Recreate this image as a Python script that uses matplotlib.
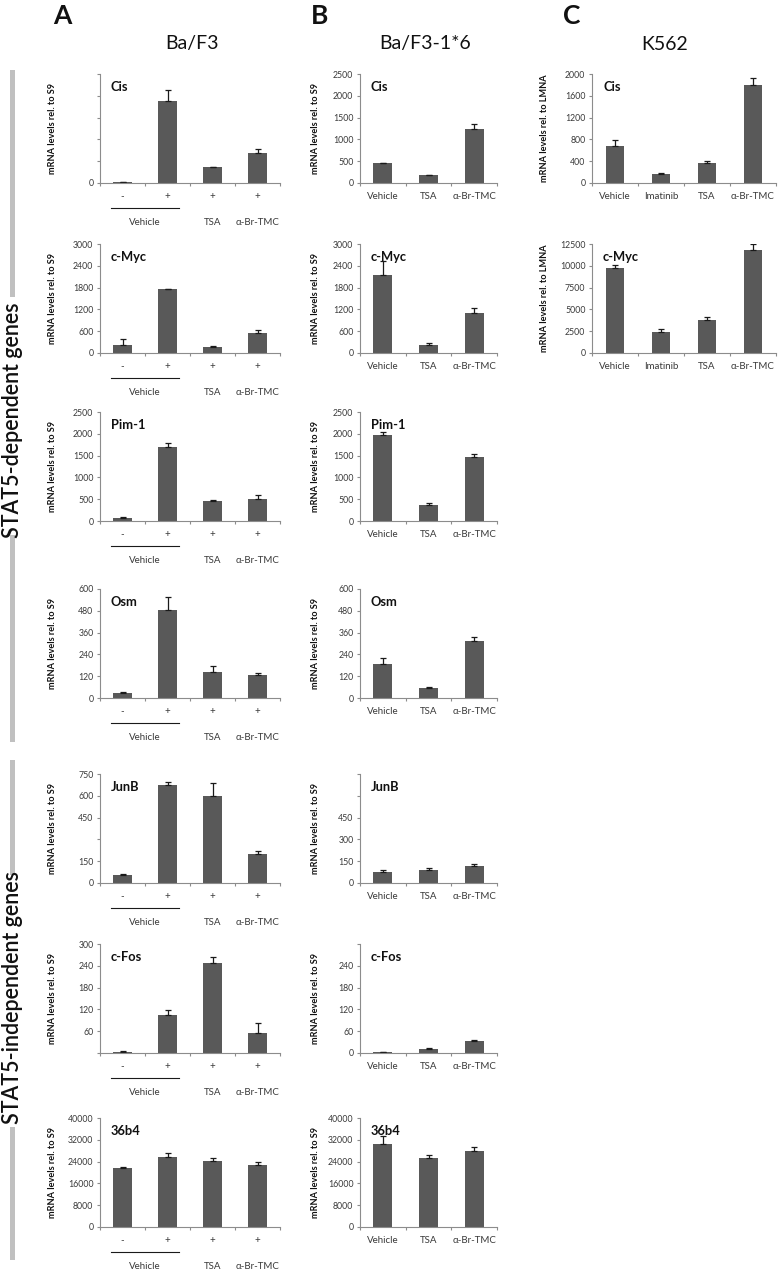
import matplotlib
matplotlib.use('Agg')
import matplotlib.pyplot as plt
from matplotlib.patches import Rectangle
import numpy as np

plt.rcParams['font.family'] = ['Lato', 'DejaVu Sans']

# ---------------- data ----------------
a_ticklabels = ['-', '+', '+', '+']
a_groups = ['Vehicle', 'TSA', 'α-Br-TMC']
b_categories = ['Vehicle', 'TSA', 'α-Br-TMC']
c_categories = ['Vehicle', 'Imatinib', 'TSA', 'α-Br-TMC']
genes = ['Cis', 'c-Myc', 'Pim-1', 'Osm', 'JunB', 'c-Fos', '36b4']
c_genes = ['Cis', 'c-Myc']

# Column A: Ba/F3
a_cis = [25, 1875, 360, 695];          a_cis_err = [5, 260, 15, 75]
a_myc = [210, 1750, 170, 560];         a_myc_err = [170, 10, 25, 65]
a_pim = [60, 1700, 455, 500];          a_pim_err = [30, 100, 30, 105]
a_osm = [28, 485, 143, 125];           a_osm_err = [6, 73, 32, 12]
a_junb = [57, 677, 601, 201];          a_junb_err = [7, 15, 85, 16]
a_fos = [3, 105, 248, 55];             a_fos_err = [2, 13, 15, 27]
a_36b4 = [21600, 25700, 24200, 22800]; a_36b4_err = [600, 1300, 1000, 1200]

# Column B: Ba/F3-1*6
b_cis = [450, 175, 1230];      b_cis_err = [20, 15, 115]
b_myc = [2150, 230, 1110];     b_myc_err = [370, 35, 135]
b_pim = [1965, 370, 1465];     b_pim_err = [80, 45, 75]
b_osm = [187, 55, 316];        b_osm_err = [33, 6, 22]
b_junb = [77, 88, 116];        b_junb_err = [15, 15, 15]
b_fos = [2, 10, 33];           b_fos_err = [1, 5, 2]
b_36b4 = [30600, 25500, 27800]; b_36b4_err = [2900, 850, 1600]

# Column C: K562
c_cis = [680, 160, 370, 1800];       c_cis_err = [100, 15, 35, 125]
c_myc = [9700, 2450, 3800, 11800];   c_myc_err = [350, 300, 350, 650]

# y-axis ticks and labels ('' = label not shown in the original)
yt_2500 = [0, 500, 1000, 1500, 2000, 2500]
yt_3000 = [0, 600, 1200, 1800, 2400, 3000]
yt_600 = [0, 120, 240, 360, 480, 600]
yt_750 = [0, 150, 300, 450, 600, 750]
yt_300 = [0, 60, 120, 180, 240, 300]
yt_40000 = [0, 8000, 16000, 24000, 32000, 40000]
yt_2000 = [0, 400, 800, 1200, 1600, 2000]
yt_12500 = [0, 2500, 5000, 7500, 10000, 12500]

a_cis_labels = ['0', '', '', '', '', '']
a_junb_labels = ['0', '150', '', '450', '600', '750']
a_fos_labels = ['', '60', '120', '180', '240', '300']
b_junb_labels = ['0', '150', '300', '450', '', '']
b_fos_labels = ['0', '60', '120', '180', '240', '']

# ---------------- layout ----------------
W, H = 782, 1270
fig = plt.figure(figsize=(W / 100, H / 100), dpi=100)
PH = 109  # panel height px
row_zero = [183, 353, 521, 698, 883, 1053, 1227]
colA = (100, 180)
colB = (360, 137)
colC = (592, 184)

BAR = '#595959'
SP = '#8c8c8c'
TXT = '#3a3a3a'


def panel(col, zero, vals, errs, yticks, ylabels, title, ylabel, xlabels=None):
    left, width = col
    ax = fig.add_axes([left / W, 1 - zero / H, width / W, PH / H])
    n = len(vals)
    x = np.arange(n)
    ax.bar(x, vals, width=0.41, color=BAR, zorder=2,
           yerr=[np.zeros(n), errs], capsize=2.4,
           error_kw=dict(elinewidth=0.9, capthick=0.9, ecolor='#1a1a1a'))
    ax.set_xlim(-0.5, n - 0.5)
    ax.set_ylim(0, yticks[-1])
    for s in ['top', 'right']:
        ax.spines[s].set_visible(False)
    for s in ['left', 'bottom']:
        ax.spines[s].set_color(SP)
        ax.spines[s].set_linewidth(0.8)
    ax.set_yticks(yticks)
    ax.set_yticklabels(ylabels if ylabels is not None else [str(v) for v in yticks])
    ax.tick_params(axis='y', direction='out', length=2.2, width=0.8, color=SP,
                   labelsize=6.3, labelcolor=TXT, pad=2.5)
    ax.set_xticks(x)
    ax.set_xticklabels(xlabels if xlabels is not None else [])
    ax.set_xticks(np.arange(n + 1) - 0.5, minor=True)
    ax.tick_params(axis='x', which='major', length=0, labelsize=7.0,
                   labelcolor=TXT, pad=6.5)
    ax.tick_params(axis='x', which='minor', direction='out', length=2.2,
                   width=0.8, color=SP)
    ax.text(0.06 if n == 4 else 0.08, 0.88, title, transform=ax.transAxes,
            fontsize=9.3, fontweight='bold', color='#111111', va='center')
    ax.set_ylabel(ylabel, fontsize=6.6, fontweight='bold', color='#111111')
    return ax


def a_decor(ax):
    tr = ax.get_xaxis_transform()
    ax.plot([-0.25, 1.25], [-0.23, -0.23], transform=tr, color='#1a1a1a',
            lw=0.8, clip_on=False)
    for xpos, lab in zip([0.5, 2, 3], a_groups):
        ax.text(xpos, -0.36, lab, transform=tr, ha='center', va='center',
                fontsize=7.0, color=TXT)


s9 = 'mRNA levels rel. to S9'
lmna = 'mRNA levels rel. to LMNA'

a_data = [(a_cis, a_cis_err, yt_2500, a_cis_labels),
          (a_myc, a_myc_err, yt_3000, None),
          (a_pim, a_pim_err, yt_2500, None),
          (a_osm, a_osm_err, yt_600, None),
          (a_junb, a_junb_err, yt_750, a_junb_labels),
          (a_fos, a_fos_err, yt_300, a_fos_labels),
          (a_36b4, a_36b4_err, yt_40000, None)]
b_data = [(b_cis, b_cis_err, yt_2500, None),
          (b_myc, b_myc_err, yt_3000, None),
          (b_pim, b_pim_err, yt_2500, None),
          (b_osm, b_osm_err, yt_600, None),
          (b_junb, b_junb_err, yt_750, b_junb_labels),
          (b_fos, b_fos_err, yt_300, b_fos_labels),
          (b_36b4, b_36b4_err, yt_40000, None)]
c_data = [(c_cis, c_cis_err, yt_2000, None),
          (c_myc, c_myc_err, yt_12500, None)]

for i, g in enumerate(genes):
    v, e, yt, yl = a_data[i]
    ax = panel(colA, row_zero[i], v, e, yt, yl, g, s9, a_ticklabels)
    ax.yaxis.set_label_coords(-43 / colA[1], 0.5)
    a_decor(ax)
    v, e, yt, yl = b_data[i]
    ax = panel(colB, row_zero[i], v, e, yt, yl, g, s9, b_categories)
    ax.yaxis.set_label_coords(-40 / colB[1], 0.5)

for i, g in enumerate(c_genes):
    v, e, yt, yl = c_data[i]
    ax = panel(colC, row_zero[i], v, e, yt, yl, g, lmna, c_categories)
    ax.yaxis.set_label_coords(-43 / colC[1], 0.5)

# headers
for xl, letter in [(62, 'A'), (320, 'B'), (572, 'C')]:
    fig.text(xl / W, 1 - 16 / H, letter, fontsize=19, fontweight='bold',
             ha='center', va='center', color='#111111')
for xc, name in [(192, 'Ba/F3'), (425, 'Ba/F3-1*6'), (665, 'K562')]:
    fig.text(xc / W, 1 - 44 / H, name, fontsize=14, ha='center', va='center',
             color='#111111')

# left side group markers
for y0, y1 in [(70, 297), (535, 742), (760, 875), (1127, 1260)]:
    fig.add_artist(Rectangle((10 / W, 1 - y1 / H), 5 / W, (y1 - y0) / H,
                             transform=fig.transFigure, color='#c0c0c0', lw=0))
fig.text(13 / W, 1 - 420 / H, 'STAT5-dependent genes', rotation=90,
         fontsize=15.5, fontweight='semibold', ha='center', va='center',
         color='#111111')
fig.text(13 / W, 1 - 998 / H, 'STAT5-independent genes', rotation=90,
         fontsize=15.5, fontweight='semibold', ha='center', va='center',
         color='#111111')

fig.savefig('out.png', dpi=100, facecolor='white')
